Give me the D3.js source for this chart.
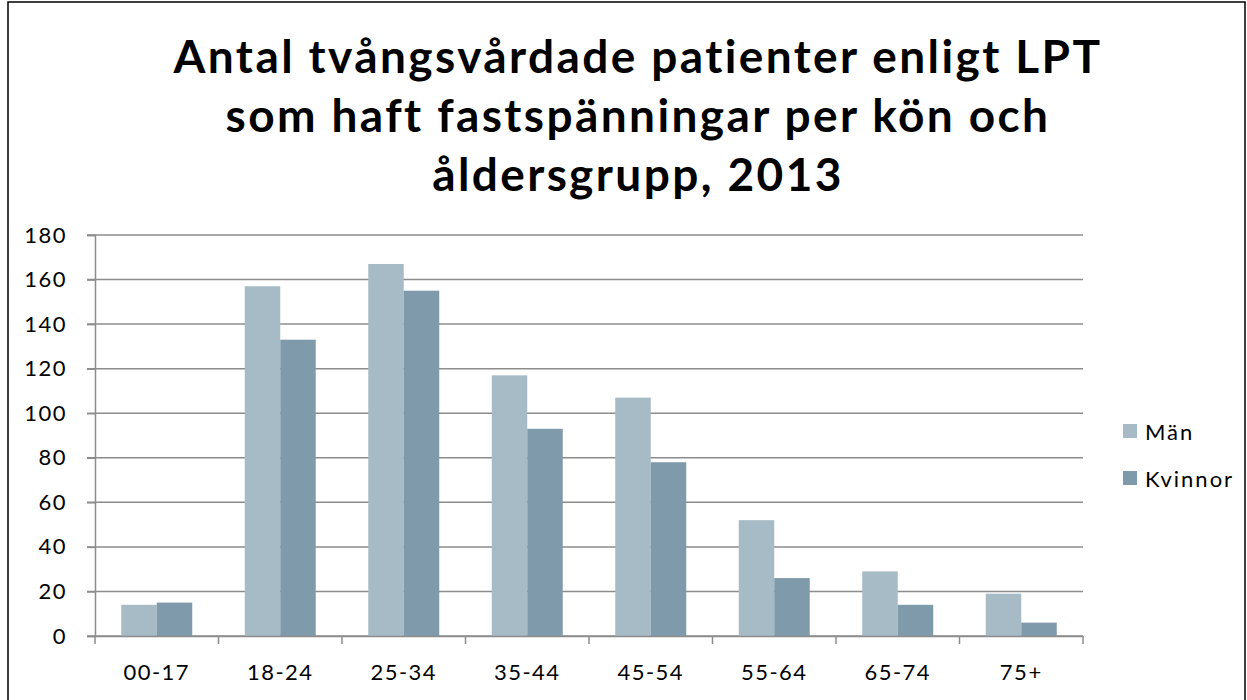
<!DOCTYPE html>
<html><head><meta charset="utf-8">
<script src="https://cdn.jsdelivr.net/npm/d3@7"></script>
<style>html,body{margin:0;padding:0;background:#fff}svg{display:block}</style>
</head><body>
<script>
const categories = ["00-17","18-24","25-34","35-44","45-54","55-64","65-74","75+"];
const seriesNames = ["Män","Kvinnor"];
const man = [14,157,167,117,107,52,29,19];
const kvinnor = [15,133,155,93,78,26,14,6];
const yTicks = [0,20,40,60,80,100,120,140,160,180];
const titleLines = ["Antal tvångsvårdade patienter enligt LPT","som haft fastspänningar per kön och","åldersgrupp, 2013"];
const colors = ["#a7bbc6","#7f9aab"];

(function(){
const W=1247,H=700;
const svg=d3.select("body").append("svg").attr("width",W).attr("height",H);
svg.append("rect").attr("x",8).attr("y",2).attr("width",1237).attr("height",710)
  .attr("fill","#fff").attr("stroke","#000").attr("stroke-width",1.5);

const font="'Lato','DejaVu Sans',sans-serif";
const pl=95,pr=1083,pt=235,pb=636;
const y=d3.scaleLinear().domain([0,180]).range([pb,pt]);
const x0=d3.scaleBand().domain(categories).range([pl,pr]).padding(0);
const x1=d3.scaleBand().domain(seriesNames).range([0,x0.bandwidth()]).paddingInner(0).paddingOuter(0.74);

svg.append("g").selectAll("line").data(yTicks).join("line")
  .attr("x1",pl-8).attr("x2",pr).attr("y1",d=>y(d)).attr("y2",d=>y(d))
  .attr("stroke","#8c8c8c").attr("stroke-width",1.5);

const data=categories.map((c,i)=>({c,vals:[man[i],kvinnor[i]]}));
const g=svg.append("g").selectAll("g").data(data).join("g").attr("transform",d=>`translate(${x0(d.c)},0)`);
g.selectAll("rect").data(d=>d.vals.map((v,j)=>({s:seriesNames[j],v,j}))).join("rect")
  .attr("x",d=>x1(d.s)).attr("width",x1.bandwidth()).attr("y",d=>y(d.v)).attr("height",d=>y(0)-y(d.v))
  .attr("fill",d=>colors[d.j]);

const yAxis=svg.append("g").attr("transform",`translate(${pl},0)`)
  .call(d3.axisLeft(y).tickValues(yTicks).tickSize(8).tickPadding(20));
yAxis.select(".domain").attr("stroke","#8c8c8c").attr("stroke-width",1.5);
yAxis.selectAll(".tick line").attr("stroke","#8c8c8c").attr("stroke-width",1.5);
yAxis.selectAll("text").attr("font-family",font).attr("font-size",22).attr("letter-spacing","1.5px").attr("fill","#000");

const xAxis=svg.append("g").attr("transform",`translate(0,${pb})`)
  .call(d3.axisBottom(x0).tickSize(0).tickPadding(28).tickSizeOuter(0));
xAxis.select(".domain").attr("stroke","#8c8c8c").attr("stroke-width",1.5);
xAxis.selectAll("text").attr("font-family",font).attr("font-size",22).attr("letter-spacing","1.5px").attr("fill","#000");
svg.append("g").selectAll("line").data(d3.range(categories.length+1)).join("line")
  .attr("x1",i=>pl+i*x0.step()).attr("x2",i=>pl+i*x0.step()).attr("y1",pb).attr("y2",pb+8)
  .attr("stroke","#8c8c8c").attr("stroke-width",1.5);

svg.append("g").selectAll("text").data(titleLines).join("text")
  .attr("x",638).attr("y",(d,i)=>73+i*59).attr("text-anchor","middle")
  .attr("font-family",font).attr("font-weight","bold").attr("font-size",46).attr("letter-spacing","2.4px")
  .attr("fill","#000").text(d=>d);

const lg=svg.append("g").selectAll("g").data(seriesNames).join("g").attr("transform",(d,i)=>`translate(1123,${424+i*47})`);
lg.append("rect").attr("width",14).attr("height",14).attr("fill",(d,i)=>colors[i]);
lg.append("text").attr("x",22).attr("y",16).attr("font-family",font).attr("font-size",22).attr("letter-spacing","2px").attr("fill","#000").text(d=>d);
})();
</script>
</body></html>
